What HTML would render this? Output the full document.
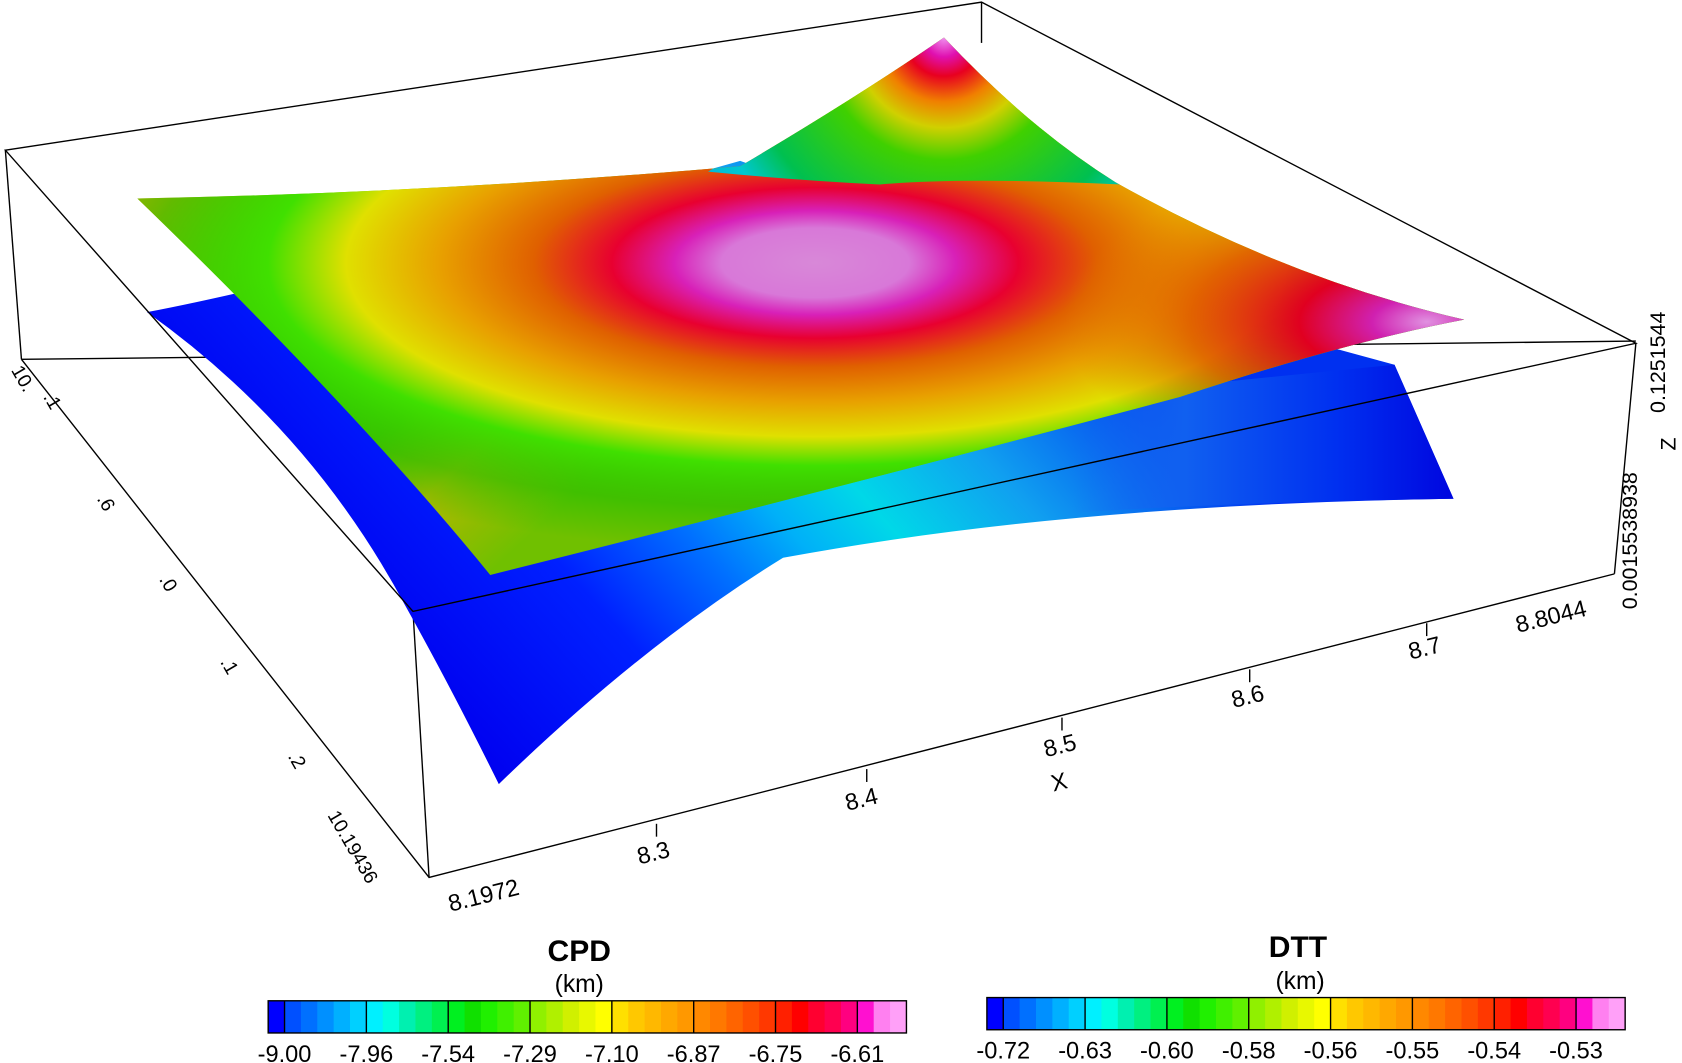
<!DOCTYPE html>
<html><head><meta charset="utf-8"><style>
html,body{margin:0;padding:0;background:#fff;}
svg{display:block;font-family:"Liberation Sans",sans-serif;}
</style></head><body>
<svg id="s" width="1682" height="1063" viewBox="0 0 1568 991" preserveAspectRatio="none">
<defs>
<linearGradient id="lo" gradientUnits="userSpaceOnUse" x1="465" y1="732" x2="1000" y2="250">
<stop offset="0" stop-color="#0000f0"/><stop offset="0.25" stop-color="#0020ff"/>
<stop offset="0.4" stop-color="#0070ff"/><stop offset="0.5" stop-color="#00b0f8"/>
<stop offset="0.6" stop-color="#00d8e8"/><stop offset="0.75" stop-color="#10a0f0"/>
<stop offset="1" stop-color="#0030f0"/></linearGradient>
<linearGradient id="lo2" gradientUnits="userSpaceOnUse" x1="1000" y1="450" x2="1350" y2="450">
<stop offset="0" stop-color="#1870f0" stop-opacity="0"/><stop offset="0.3" stop-color="#1060f0"/>
<stop offset="0.7" stop-color="#0030f0"/><stop offset="1" stop-color="#0008e0"/></linearGradient>
<linearGradient id="base" gradientUnits="userSpaceOnUse" x1="150" y1="190" x2="460" y2="530">
<stop offset="0" stop-color="#c8b000"/><stop offset="0.2" stop-color="#90cc00"/>
<stop offset="0.45" stop-color="#40d000"/><stop offset="0.65" stop-color="#60c000"/>
<stop offset="0.8" stop-color="#b0b800"/><stop offset="1" stop-color="#70c000"/></linearGradient>
<radialGradient id="up" gradientUnits="userSpaceOnUse" cx="760" cy="245" r="540" gradientTransform="translate(760 245) scale(1.35 0.5) translate(-760 -245)">
<stop offset="0" stop-color="#d888d8"/><stop offset="0.12" stop-color="#d878d8"/>
<stop offset="0.18" stop-color="#d820b8"/><stop offset="0.26" stop-color="#e80030"/>
<stop offset="0.36" stop-color="#e06000"/><stop offset="0.48" stop-color="#e8a000"/>
<stop offset="0.6" stop-color="#e0e000"/><stop offset="0.7" stop-color="#40e000"/>
<stop offset="0.85" stop-color="#20c000" stop-opacity="0.6"/><stop offset="1" stop-color="#20c000" stop-opacity="0"/></radialGradient>
<radialGradient id="rc" gradientUnits="userSpaceOnUse" cx="1330" cy="300" r="340" gradientTransform="translate(1330 300) scale(1 0.45) translate(-1330 -300)">
<stop offset="0" stop-color="#e090e0"/><stop offset="0.15" stop-color="#d020b0"/>
<stop offset="0.35" stop-color="#e00020"/><stop offset="0.65" stop-color="#e05000" stop-opacity="0.8"/><stop offset="1" stop-color="#e08000" stop-opacity="0"/></radialGradient>
<radialGradient id="tp" gradientUnits="userSpaceOnUse" cx="880" cy="35" r="300">
<stop offset="0" stop-color="#f090f0"/><stop offset="0.06" stop-color="#e010b0"/>
<stop offset="0.12" stop-color="#e80020"/><stop offset="0.2" stop-color="#f08000"/>
<stop offset="0.28" stop-color="#d0d000"/><stop offset="0.38" stop-color="#40d000"/>
<stop offset="0.62" stop-color="#00c050"/><stop offset="0.75" stop-color="#00c8d0"/><stop offset="1" stop-color="#00a0e8"/></radialGradient>
<clipPath id="uc"><path d="M128,185 Q400,180 690,155 Q800,90 880,35 Q960,120 1040,170 Q1200,260 1365,298 Q1250,320 1100,370 Q800,450 457,536 Q330,380 128,185Z"/></clipPath>
</defs>
<g fill="none" stroke="#000" stroke-width="1.3">
<polyline points="20,335 400,818 1505,535"/>
<line x1="5" y1="140" x2="20" y2="335"/>
<line x1="385" y1="570" x2="400" y2="818"/>
<line x1="1525" y1="320" x2="1505" y2="535"/>
<line x1="20" y1="335" x2="1525" y2="318"/>
</g>
<path d="M137,291 Q300,260 690,150 Q1000,260 1300,340 L1355,465 Q1000,470 730,520 Q600,600 465,731 Q420,640 378,565 Q290,400 137,291Z" fill="url(#lo)"/>
<path d="M1000,370 L1300,340 L1355,465 Q1150,468 1000,478Z" fill="url(#lo2)"/>
<g clip-path="url(#uc)">
<rect x="100" y="0" width="1300" height="560" fill="url(#base)"/>
<rect x="100" y="0" width="1300" height="560" fill="url(#up)"/>
<rect x="900" y="150" width="500" height="300" fill="url(#rc)"/>
<path d="M660,160 L880,30 L1045,172 Q900,165 820,172 Q740,168 660,160Z" fill="url(#tp)"/>
</g>
<g fill="none" stroke="#000" stroke-width="1.3">
<polygon points="5,140 915,2 1525,320 385,570"/>
<line x1="915" y1="2" x2="915" y2="40"/>
</g>
<g stroke="#000" stroke-width="1.3">
<line x1="612" y1="768" x2="612" y2="780"/><line x1="808" y1="717" x2="808" y2="729"/>
<line x1="990" y1="669" x2="990" y2="681"/><line x1="1165" y1="624" x2="1165" y2="636"/>
<line x1="1330" y1="581" x2="1330" y2="593"/>
</g>
<g font-size="22" fill="#000">
<text transform="translate(420,850) rotate(-14)">8.1972</text>
<text transform="translate(596,806) rotate(-14)">8.3</text>
<text transform="translate(790,756) rotate(-14)">8.4</text>
<text transform="translate(975,706) rotate(-14)">8.5</text>
<text transform="translate(1150,660) rotate(-14)">8.6</text>
<text transform="translate(1315,615) rotate(-14)">8.7</text>
<text transform="translate(1415,590) rotate(-14)">8.8044</text>
<text transform="translate(982,738) rotate(-14)">X</text>
<text transform="translate(1552,385) rotate(-90)" font-size="20">0.1251544</text>
<text transform="translate(1526,568) rotate(-90)" font-size="20">0.0015538938</text>
<text transform="translate(1562,420) rotate(-90)" font-size="20">Z</text>
<text transform="translate(305,760) rotate(60)" font-size="18">10.19436</text>
</g>
<g font-size="18" fill="#000">
<text transform="translate(10,345) rotate(60)">10.</text>
<text transform="translate(40,370) rotate(60)">.1</text>
<text transform="translate(90,465) rotate(60)">.6</text>
<text transform="translate(148,540) rotate(60)">.0</text>
<text transform="translate(205,617) rotate(60)">.1</text>
<text transform="translate(268,705) rotate(60)">.2</text>
</g>
<g id="cb"></g>
<g font-weight="bold" font-size="28" text-anchor="middle">
<text x="540" y="896">CPD</text><text x="1210" y="892">DTT</text></g>
<g font-size="23" text-anchor="middle">
<text x="540" y="925">(km)</text><text x="1212" y="922">(km)</text></g>
</svg>
<script>
var cols=["#0000ff","#0050ff","#0070ff","#0090ff","#00b0ff","#00d0ff","#00f0ff","#00ffe0","#00f0b0","#00f080","#00f050","#00f020","#10e000","#20f000","#40f000","#60f000","#90f000","#b0f000","#d0f000","#e8f800","#ffff00","#ffe000","#ffc800","#ffb800","#ffa800","#ff9800","#ff8800","#ff7800","#ff6400","#ff5000","#ff3800","#ff2000","#ff0000","#ff0030","#ff0050","#ff0080","#ff10d0","#ff80f0","#ffa0f8"];
var g=document.getElementById('cb'),ns="http://www.w3.org/2000/svg";
function bar(x0,x1,y0,h,labels){var w=(x1-x0)/39;
for(var i=0;i<39;i++){var r=document.createElementNS(ns,'rect');r.setAttribute('x',x0+i*w);r.setAttribute('y',y0);r.setAttribute('width',w+0.6);r.setAttribute('height',h);r.setAttribute('fill',cols[i]);g.appendChild(r);}
var b=document.createElementNS(ns,'rect');b.setAttribute('x',x0);b.setAttribute('y',y0);b.setAttribute('width',x1-x0);b.setAttribute('height',h);b.setAttribute('fill','none');b.setAttribute('stroke','#000');b.setAttribute('stroke-width','1.3');g.appendChild(b);
for(var k=0;k<8;k++){var xi=x0+(1+5*k)*w;var l=document.createElementNS(ns,'line');l.setAttribute('x1',xi);l.setAttribute('x2',xi);l.setAttribute('y1',y0);l.setAttribute('y2',y0+h);l.setAttribute('stroke','#000');l.setAttribute('stroke-width','1.3');g.appendChild(l);
var t=document.createElementNS(ns,'text');t.setAttribute('x',xi);t.setAttribute('y',y0+h+27);t.setAttribute('font-size','22');t.setAttribute('text-anchor','middle');t.textContent=labels[k];g.appendChild(t);}}
bar(250,845,933,30,["-9.00","-7.96","-7.54","-7.29","-7.10","-6.87","-6.75","-6.61"]);
bar(920,1515,930,30,["-0.72","-0.63","-0.60","-0.58","-0.56","-0.55","-0.54","-0.53"]);
</script>
</body></html>
